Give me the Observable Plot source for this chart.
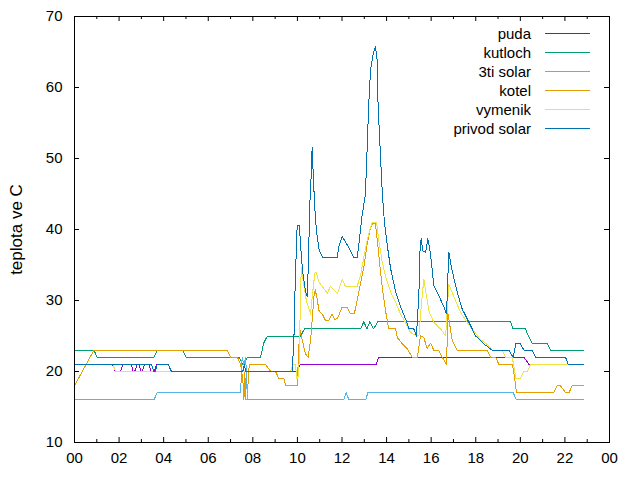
<!DOCTYPE html>
<html><head><meta charset="utf-8">
<script src="https://cdn.jsdelivr.net/npm/d3@7"></script>
<script src="https://cdn.jsdelivr.net/npm/@observablehq/plot@0.6"></script>
<style>
body{margin:0;background:#fff;font-family:"Liberation Sans",Arial,sans-serif;}
#wrap{position:relative;width:640px;height:480px;}
</style></head><body><div id="wrap"></div>
<script>
const names = ["puda","kutloch","3ti solar","kotel","vymenik","privod solar"];
const colors = ["#9400d3","#009e73","#56b4e9","#e69f00","#f0e442","#0072b2"];
const xTicks = [0,2,4,6,8,10,12,14,16,18,20,22,24];
const xMinor = [1,3,5,7,9,11,13,15,17,19,21,23];
const yTicks = [10,20,30,40,50,60,70];
const yLabel = "teplota ve C";

const puda = [[0,21],[1.69,21],[1.84,20],[2.06,20],[2.17,21],[2.55,21],[2.62,20],[2.7,20],[2.81,21],[2.9,21],[2.97,20],[3.03,20],[3.14,21],[3.35,21],[3.43,20],[3.56,20],[3.7,21],[4.2,21],[4.35,20],[9.95,20],[10.14,21],[13.53,21],[13.65,22],[20.16,22],[20.39,21],[22.85,21]];
const kutloch = [[0,23],[0.87,23],[1.02,22],[3.56,22],[3.71,23],[4.86,23],[5.01,22],[7.39,22],[7.55,21],[7.6,21],[7.76,22],[8.34,22],[8.42,23],[8.49,24],[8.65,25],[10.14,25],[10.32,26],[12.83,26],[12.98,27],[13.12,26],[13.25,27],[13.42,26],[13.6,27],[19.56,27],[19.68,26],[20.23,26],[20.36,25],[20.53,24],[21.2,24],[21.35,23],[22.85,23]];
const solar3 = [[0,16],[3.56,16],[3.71,17],[7.39,17],[7.45,17],[7.52,22],[7.6,21],[7.68,22],[7.76,16],[12.08,16],[12.19,17],[12.31,16],[13.06,16],[13.16,17],[19.68,17],[19.83,16],[22.85,16]];
const kotel = [[0,18],[0.87,23],[6.85,23],[7.0,22],[7.31,22],[7.45,21],[7.55,19],[7.6,16],[7.64,20],[7.68,16],[7.74,16],[7.84,21],[8.57,21],[8.8,20],[9.02,20],[9.17,19],[9.39,19],[9.47,18],[9.99,18],[10.1,26],[10.21,24.5],[10.36,22.5],[10.48,22],[10.59,24.4],[10.66,27.2],[10.74,30.5],[10.8,31.5],[10.9,30],[10.96,28.6],[11.11,28.1],[11.26,27.2],[11.41,27.2],[11.56,28.1],[11.68,27.3],[11.8,27.5],[12.0,29],[12.23,29],[12.38,28.1],[12.55,28.1],[12.68,30],[12.83,32.4],[12.98,34.7],[13.13,38],[13.28,40.3],[13.36,40.8],[13.5,40.8],[13.58,38.5],[13.65,36.5],[13.73,34],[13.8,32],[13.88,30.2],[13.95,28.6],[14.03,27.2],[14.1,26],[14.4,26],[14.48,24.8],[14.7,23.9],[14.93,23.2],[15.15,22],[15.38,22],[15.52,25],[15.67,24.8],[15.82,23.2],[15.97,24],[16.12,23],[16.34,23],[16.5,22],[16.69,21],[16.75,28.2],[16.95,24.3],[17.17,23],[18.52,23],[18.66,22],[18.89,22],[19.04,21],[19.64,21],[19.75,19],[19.83,17],[21.5,17],[21.66,18],[21.8,18],[22.03,17],[22.18,17],[22.33,18],[22.85,18]];
const vymenik = [[0,21],[1.72,21],[1.84,20],[9.69,20],[9.8,21],[9.91,21],[9.98,19],[10.06,19.5],[10.17,34.6],[10.28,32.4],[10.4,30],[10.59,28.1],[10.68,31],[10.78,33.8],[10.84,34],[10.96,32.6],[11.11,32],[11.34,31],[11.48,32],[11.62,31.5],[11.8,31],[12.01,33],[12.15,32],[12.68,32],[12.83,33.5],[12.98,36.1],[13.13,38.5],[13.28,40.3],[13.36,41],[13.55,41],[13.65,38.5],[13.8,35.5],[13.95,33.4],[14.18,31.2],[14.4,29.8],[14.62,28.1],[14.85,26.9],[15.07,25.5],[15.3,25.1],[15.45,25],[15.55,29],[15.67,33],[15.9,28.5],[16.12,26.9],[16.42,26],[16.65,25],[16.79,32.3],[17.09,30],[17.32,28.3],[17.62,26.9],[17.91,25.7],[18.21,24.5],[18.52,23.8],[18.74,23],[19.19,23],[19.34,22],[19.64,22],[19.8,19],[20.0,19],[20.16,20],[20.31,20],[20.46,21],[22.85,21]];
const privod = [[0,21],[3.45,21],[3.56,20],[3.62,20],[3.71,21],[4.2,21],[4.35,20],[7.55,20],[7.62,21],[7.68,20],[9.77,20],[9.85,25.4],[9.9,32.4],[9.95,37],[9.99,40.6],[10.08,40.6],[10.12,38.9],[10.16,37],[10.23,34.2],[10.29,32.8],[10.36,31.4],[10.44,30.5],[10.5,36.1],[10.55,43.1],[10.62,47.8],[10.66,51.6],[10.72,46.9],[10.78,43.1],[10.84,40.3],[10.91,38.5],[10.98,37],[11.14,36],[11.78,36],[11.85,37.5],[12.01,39],[12.15,38.3],[12.3,37.5],[12.45,36.5],[12.53,36],[12.68,36],[12.76,38],[12.83,40],[12.9,42],[12.98,43.5],[13.05,45],[13.13,51.6],[13.2,57.7],[13.28,62.4],[13.4,64.7],[13.5,65.8],[13.58,63.8],[13.62,57.2],[13.68,53.5],[13.73,50.2],[13.77,47.4],[13.83,44.1],[13.91,40.8],[14.03,37.8],[14.18,34.5],[14.4,31.3],[14.62,29.2],[14.85,27.4],[15.0,26],[15.22,26],[15.34,25],[15.45,31],[15.5,37],[15.55,38.7],[15.63,37],[15.75,36.8],[15.85,38.7],[15.97,36.6],[16.12,32.1],[16.34,30.7],[16.57,29.1],[16.69,28.1],[16.79,36.8],[16.94,34.2],[17.17,31.2],[17.39,28.8],[17.62,27.4],[17.84,26],[17.99,25],[18.07,24.8],[18.36,23.9],[18.74,23],[19.48,23],[19.68,22],[19.8,23.9],[20.0,23.9],[20.16,23],[20.53,23],[20.68,22],[22.03,22],[22.15,21],[22.85,21]];

const seriesList = [puda,kutloch,solar3,kotel,vymenik,privod];
const rows = [];
seriesList.forEach((s,i)=>s.forEach(([h,v])=>rows.push({series:names[i],h,v})));

const W=640,H=480,mL=74,mR=31,mT=16,mB=38;
const fw=W-mL-mR, fh=H-mT-mB;
const major=5, minor=3;
const fmt = d => String(d%24).padStart(2,"0");

const chart = Plot.plot({
  width:W,height:H,marginLeft:mL,marginRight:mR,marginTop:mT,marginBottom:mB,
  style:{fontFamily:'"Liberation Sans",Arial,sans-serif',fontSize:"15px",color:"#000",background:"#fff"},
  x:{domain:[0,24],label:null},
  y:{domain:[10,70],label:null},
  color:{domain:names,range:colors},
  marks:[
    Plot.axisX({ticks:xTicks,tickSize:0,tickPadding:10,tickFormat:fmt,label:null,fontSize:15}),
    Plot.axisY({ticks:yTicks,tickSize:0,tickPadding:12,label:null,fontSize:15}),
    Plot.tickX(xTicks,{x:d=>d,insetTop:fh-major,stroke:"#000"}),
    Plot.tickX(xTicks,{x:d=>d,insetBottom:fh-major,stroke:"#000"}),
    Plot.tickX(xMinor,{x:d=>d,insetTop:fh-minor,stroke:"#000"}),
    Plot.tickX(xMinor,{x:d=>d,insetBottom:fh-minor,stroke:"#000"}),
    Plot.tickY(yTicks,{y:d=>d,insetRight:fw-major,stroke:"#000"}),
    Plot.tickY(yTicks,{y:d=>d,insetLeft:fw-major,stroke:"#000"}),
    Plot.line(rows,{x:"h",y:"v",z:"series",stroke:"series",strokeWidth:1,shapeRendering:"crispEdges"}),
    Plot.frame({stroke:"#000"}),
    Plot.text([yLabel],{frameAnchor:"left",rotate:-90,dx:-58,textAnchor:"middle",fontSize:17,fill:"#000"})
  ]
});
const wrap = document.getElementById("wrap");
wrap.appendChild(chart);

const legend = d3.select(wrap).append("div")
  .style("position","absolute").style("left","0px").style("top","0px");
names.forEach((n,i)=>{
  const row = legend.append("div")
    .style("position","absolute").style("left","0px").style("top",(24+19*i)+"px")
    .style("width","600px").style("height","19px");
  row.append("span").text(n)
    .style("position","absolute").style("right","69px").style("top","0px")
    .style("line-height","19px").style("font-size","15px").style("white-space","nowrap");
  const svg = row.append("svg").attr("width",45).attr("height",19)
    .style("position","absolute").style("left","545px").style("top","0px");
  svg.append("line").attr("x1",0).attr("x2",45).attr("y1",9.5).attr("y2",9.5)
    .attr("stroke",colors[i]).attr("stroke-width",1);
});
</script></body></html>
